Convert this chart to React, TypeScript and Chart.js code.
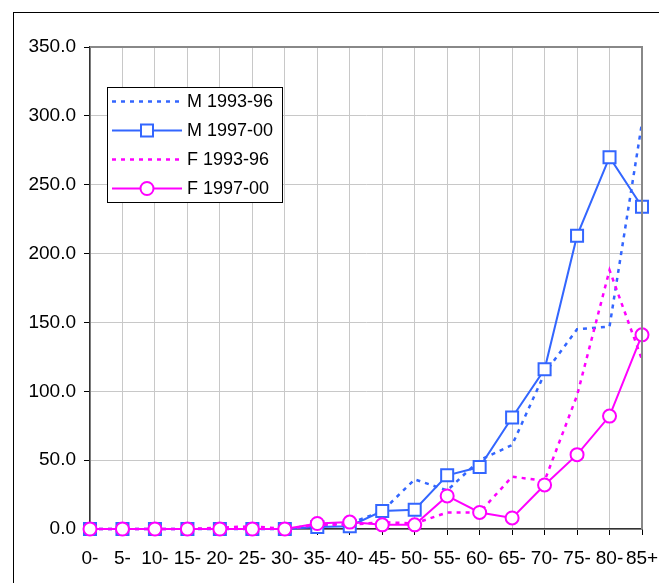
import React, { useEffect, useRef } from "react";
import { Chart, registerables } from "chart.js";

Chart.register(...registerables);

const categories = ["0-", "5-", "10-", "15-", "20-", "25-", "30-", "35-", "40-", "45-", "50-", "55-", "60-", "65-", "70-", "75-", "80-", "85+"];
const m9396 = [0, 0, 0, 0, 0, 0, 0, 3, 4, 13, 36, 28, 50, 61, 113, 145, 147, 295];
const m9700 = [0, 0, 0, 0, 0, 0, 0, 1.5, 2, 13, 14, 39, 45, 81, 116, 213, 270, 234];
const f9396 = [0, 0, 0, 0, 1, 2, 0, 3, 3, 5, 4, 12, 12, 38, 35, 97, 188, 123];
const f9700 = [0, 0, 0, 0, 0, 0, 0, 4, 5, 3, 3, 24, 12, 8, 32, 54, 82, 141];
const seriesLabels = ["M 1993-96", "M 1997-00", "F 1993-96", "F 1997-00"];

const BLUE = "#3366ff";
const MAGENTA = "#ff00ff";
const FONT = "'Liberation Sans', Arial, sans-serif";

const framePlugin = {
  id: "frame",
  afterDraw(chart: any) {
    const { ctx, chartArea } = chart;
    const { left, top, right, bottom } = chartArea;
    ctx.save();
    ctx.strokeStyle = "#888888";
    ctx.lineWidth = 2;
    ctx.beginPath();
    ctx.moveTo(left, top);
    ctx.lineTo(right, top);
    ctx.lineTo(right, bottom);
    ctx.stroke();
    ctx.strokeStyle = "#000";
    ctx.lineWidth = 1;
    ctx.strokeRect(13.5, 12.5, 1000, 1000);

    const lx = 107, ly = 87, lw = 175, lh = 115;
    ctx.fillStyle = "#fff";
    ctx.fillRect(lx, ly, lw, lh);
    ctx.strokeStyle = "#000";
    ctx.lineWidth = 1;
    ctx.strokeRect(lx + 0.5, ly + 0.5, lw, lh);
    chart.data.datasets.forEach((ds: any, i: number) => {
      const y = 101.5 + i * 29;
      ctx.save();
      ctx.strokeStyle = ds.borderColor;
      ctx.lineWidth = ds.borderWidth;
      ctx.setLineDash(ds.borderDash || []);
      ctx.beginPath();
      ctx.moveTo(112, y);
      ctx.lineTo(182, y);
      ctx.stroke();
      ctx.setLineDash([]);
      if (ds.pointRadius > 0) {
        ctx.fillStyle = "#fff";
        ctx.lineWidth = ds.pointBorderWidth;
        ctx.strokeStyle = ds.borderColor;
        ctx.beginPath();
        if (ds.pointStyle === "rect") {
          ctx.rect(147 - 6, y - 6, 12, 12);
        } else {
          ctx.arc(147, y, 6.5, 0, Math.PI * 2);
        }
        ctx.fill();
        ctx.stroke();
      }
      ctx.restore();
      ctx.fillStyle = "#000";
      ctx.font = `18px ${FONT}`;
      ctx.textBaseline = "middle";
      ctx.textAlign = "left";
      ctx.fillText(ds.label, 187, y + 1);
    });
    ctx.restore();
  },
};

export default function App() {
  const ref = useRef<HTMLCanvasElement>(null);
  useEffect(() => {
    if (!ref.current) return;
    const chart = new Chart(ref.current, {
      type: "line",
      data: {
        labels: categories,
        datasets: [
          {
            label: seriesLabels[0],
            data: m9396,
            borderColor: BLUE,
            borderWidth: 2.5,
            borderDash: [4, 5],
            pointRadius: 0,
            fill: false,
            clip: false,
            order: 3,
          },
          {
            label: seriesLabels[1],
            data: m9700,
            borderColor: BLUE,
            borderWidth: 2,
            pointStyle: "rect",
            pointRadius: 8.5,
            pointBorderWidth: 2,
            pointBackgroundColor: "#fff",
            pointBorderColor: BLUE,
            fill: false,
            clip: false,
            order: 2,
          },
          {
            label: seriesLabels[2],
            data: f9396,
            borderColor: MAGENTA,
            borderWidth: 2.5,
            borderDash: [4, 5],
            pointRadius: 0,
            fill: false,
            clip: false,
            order: 1,
          },
          {
            label: seriesLabels[3],
            data: f9700,
            borderColor: MAGENTA,
            borderWidth: 2,
            pointStyle: "circle",
            pointRadius: 6.5,
            pointBorderWidth: 2,
            pointBackgroundColor: "#fff",
            pointBorderColor: MAGENTA,
            fill: false,
            clip: false,
            order: 0,
          },
        ] as any,
      },
      options: {
        animation: false,
        responsive: false,
        devicePixelRatio: 1,
        layout: { padding: { left: 0, top: 47, right: 17, bottom: 0 } },
        plugins: {
          legend: { display: false },
          tooltip: { enabled: false },
        },
        elements: { line: { tension: 0 } },
        scales: {
          x: {
            type: "category",
            offset: false,
            afterFit: (s: any) => {
              s.height = 54;
              s.paddingLeft = 0;
              s.paddingRight = 0;
            },
            grid: {
              color: "#c8c8c8",
              lineWidth: 1,
              tickColor: "#000",
              tickLength: 6,
            },
            border: { color: "#333", width: 1.5 },
            ticks: {
              color: "#000",
              font: { family: FONT, size: 19 },
              padding: 12,
              maxRotation: 0,
              minRotation: 0,
              autoSkip: false,
            },
          },
          y: {
            min: 0,
            max: 350,
            afterFit: (s: any) => {
              s.width = 90;
              s.paddingTop = 0;
              s.paddingBottom = 0;
            },
            grid: {
              color: "#c8c8c8",
              lineWidth: 1,
              tickColor: "#000",
              tickLength: 6,
            },
            border: { color: "#333", width: 1.5 },
            ticks: {
              stepSize: 50,
              color: "#000",
              font: { family: FONT, size: 19 },
              padding: 8,
              callback: (v: any) => Number(v).toFixed(1),
            },
          },
        },
      },
      plugins: [framePlugin],
    });
    return () => chart.destroy();
  }, []);
  return (
    <div style={{ position: "absolute", left: 0, top: 0, width: 659, height: 583, background: "#fff" }}>
      <canvas ref={ref} width={659} height={583} style={{ display: "block" }} />
    </div>
  );
}
